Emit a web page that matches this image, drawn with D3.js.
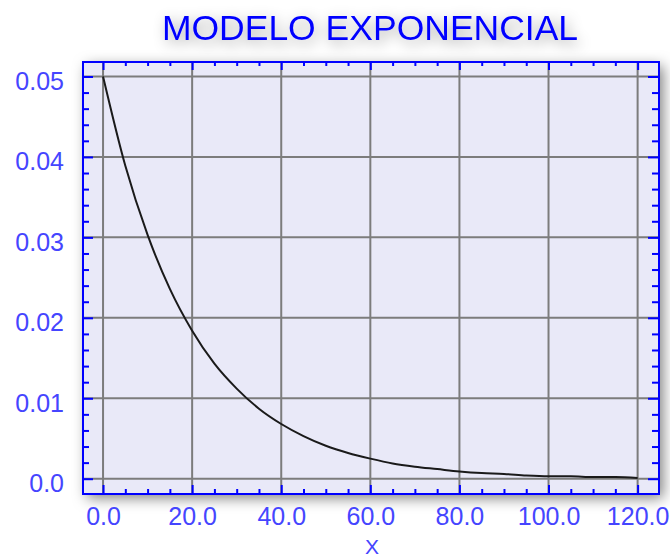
<!DOCTYPE html>
<html>
<head>
<meta charset="utf-8">
<title>Modelo exponencial</title>
<script src="https://d3js.org/d3.v7.min.js"></script>
<style>
body { margin: 0; background: #fff; }
text { font-family: "Liberation Sans", Arial, sans-serif; }
</style>
</head>
<body>
<div id="chart"></div>
<script>

/* datos */
var xValues = [0, 5, 10, 15, 20, 25, 30, 35, 40, 45, 50, 55, 60, 65, 70, 75, 80, 85, 90, 95, 100, 105, 110, 115, 120];
var yValues = [0.0500, 0.0389, 0.0303, 0.0236, 0.0184, 0.0143, 0.0112, 0.0087, 0.0068, 0.0053, 0.0041, 0.0032, 0.0025,
               0.0019, 0.0015, 0.0012, 0.0009, 0.0007, 0.0006, 0.0004, 0.0003, 0.0003, 0.0002, 0.0002, 0.0001];
var xMajor = [0, 20, 40, 60, 80, 100, 120];
var xMinor = [5, 10, 15, 25, 30, 35, 45, 50, 55, 65, 70, 75, 85, 90, 95, 105, 110, 115];
var yMajor = [0, 0.01, 0.02, 0.03, 0.04, 0.05];
var yMinor = [0.002, 0.004, 0.006, 0.008, 0.012, 0.014, 0.016, 0.018, 0.022, 0.024, 0.026, 0.028,
              0.032, 0.034, 0.036, 0.038, 0.042, 0.044, 0.046, 0.048];
var titulo = "MODELO EXPONENCIAL";
var xTitulo = "X";

var width = 670, height = 560;
var pL = 83, pT = 62, pR = 659, pB = 494;

var svg = d3.select("#chart").append("svg")
    .attr("width", width)
    .attr("height", height);

var defs = svg.append("defs");
var f = defs.append("filter").attr("id", "sombra")
    .attr("x", "-20%").attr("y", "-20%").attr("width", "140%").attr("height", "140%");
f.append("feDropShadow").attr("dx", 4).attr("dy", 4).attr("stdDeviation", 7)
    .attr("flood-color", "#000").attr("flood-opacity", 0.5);
var f2 = defs.append("filter").attr("id", "sombraT")
    .attr("x", "-20%").attr("y", "-80%").attr("width", "140%").attr("height", "260%");
f2.append("feDropShadow").attr("dx", 3).attr("dy", 4).attr("stdDeviation", 7)
    .attr("flood-color", "#000").attr("flood-opacity", 0.4);

var x = d3.scaleLinear().domain([-4.5, 124.8]).range([pL, pR]);
var y = d3.scaleLinear().domain([-0.0019, 0.0518]).range([pB, pT]);

/* titulo */
svg.append("text")
    .attr("x", 370).attr("y", 40)
    .attr("text-anchor", "middle")
    .style("font-size", "35.5px")
    .style("fill", "#0000ff")
    .attr("filter", "url(#sombraT)")
    .text(titulo);

/* fondo del area */
svg.append("rect")
    .attr("x", pL).attr("y", pT)
    .attr("width", pR - pL).attr("height", pB - pT)
    .style("fill", "#e9e9f8")
    .attr("filter", "url(#sombra)");

/* rejilla */
var grid = svg.append("g");
grid.selectAll(".gx").data(xMajor).enter().append("line")
    .attr("x1", d => x(d)).attr("x2", d => x(d))
    .attr("y1", pT).attr("y2", pB)
    .style("stroke", "#7c7c7c").style("stroke-width", 2);
grid.selectAll(".gy").data(yMajor).enter().append("line")
    .attr("y1", d => y(d)).attr("y2", d => y(d))
    .attr("x1", pL).attr("x2", pR)
    .style("stroke", "#7c7c7c").style("stroke-width", 2);

/* curva */
var line = d3.line()
    .x((d, i) => x(xValues[i]))
    .y(d => y(d))
    .curve(d3.curveMonotoneX);
svg.append("path")
    .datum(yValues)
    .attr("d", line)
    .style("fill", "none")
    .style("stroke", "#1a1a1a")
    .style("stroke-width", 2);

/* ejes */
function estilo(g) {
  g.select(".domain").remove();
  g.selectAll("line").style("stroke", "#0000ff").style("stroke-width", 2);
  g.selectAll("text").style("fill", "#4545ff").style("font-size", "25px");
}

svg.append("g").attr("transform", "translate(0," + pB + ")")
    .call(d3.axisBottom(x).tickValues(xMajor).tickSize(-9).tickPadding(13).tickFormat(d3.format(".1f")))
    .call(estilo);
svg.append("g").attr("transform", "translate(0," + pB + ")")
    .call(d3.axisBottom(x).tickValues(xMinor).tickSize(-5).tickFormat(""))
    .call(estilo);
svg.append("g").attr("transform", "translate(0," + pT + ")")
    .call(d3.axisTop(x).tickValues(xMajor).tickSize(-8).tickFormat(""))
    .call(estilo);
svg.append("g").attr("transform", "translate(0," + pT + ")")
    .call(d3.axisTop(x).tickValues(xMinor).tickSize(-4).tickFormat(""))
    .call(estilo);

var yFmt = d => d === 0 ? "0.0" : d3.format(".2f")(d);
svg.append("g").attr("transform", "translate(" + pL + ",0)")
    .call(d3.axisLeft(y).tickValues(yMajor).tickSize(-10).tickPadding(19).tickFormat(yFmt))
    .call(estilo)
    .selectAll("text").attr("dy", "0.52em");
svg.append("g").attr("transform", "translate(" + pL + ",0)")
    .call(d3.axisLeft(y).tickValues(yMinor).tickSize(-6).tickFormat(""))
    .call(estilo);
svg.append("g").attr("transform", "translate(" + pR + ",0)")
    .call(d3.axisRight(y).tickValues(yMajor).tickSize(-11).tickFormat(""))
    .call(estilo);
svg.append("g").attr("transform", "translate(" + pR + ",0)")
    .call(d3.axisRight(y).tickValues(yMinor).tickSize(-7).tickFormat(""))
    .call(estilo);

/* marco */
svg.append("rect")
    .attr("x", pL).attr("y", pT)
    .attr("width", pR - pL).attr("height", pB - pT)
    .style("fill", "none")
    .style("stroke", "#0000ff")
    .style("stroke-width", 2);

/* titulo eje x */
svg.append("text")
    .attr("x", 372).attr("y", 554)
    .attr("text-anchor", "middle")
    .style("font-size", "21px")
    .style("fill", "#4545ff")
    .text(xTitulo);

</script>
</body>
</html>
